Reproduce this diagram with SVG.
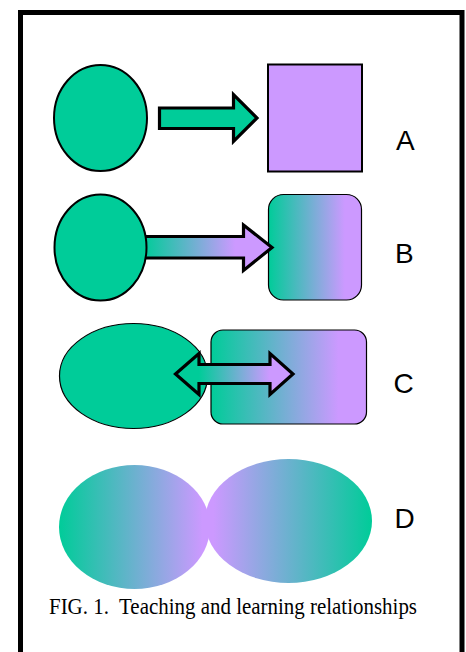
<svg xmlns="http://www.w3.org/2000/svg" width="466" height="652" viewBox="0 0 466 652">
  <style>
    .frame { fill: #ffffff; stroke: #000000; stroke-width: 5; }
    .green { fill: #00CC99; }
    .purple { fill: #CC99FF; }
    .edge2 { stroke: #000000; stroke-width: 2; }
    .edge1 { stroke: #000000; stroke-width: 1.2; }
    .arrow { stroke: #000000; stroke-width: 3.2; stroke-linejoin: miter; }
    .tag { font-family: "Liberation Sans", Arial, sans-serif; font-size: 28px; fill: #000000; }
    .caption { font-family: "Liberation Serif", "Times New Roman", serif; font-size: 22.5px; fill: #000000; white-space: pre; }
  </style>
  <defs>
    <linearGradient id="gArrowB" x1="0" y1="0" x2="1" y2="0">
      <stop offset="0.03" stop-color="#00CC99"/>
      <stop offset="0.72" stop-color="#CC99FF"/>
    </linearGradient>
    <linearGradient id="gBox" x1="0" y1="0" x2="1" y2="0">
      <stop offset="0" stop-color="#00CC99"/>
      <stop offset="0.82" stop-color="#CC99FF"/>
    </linearGradient>
    <linearGradient id="gArrowC" x1="0" y1="0" x2="1" y2="0">
      <stop offset="0.2" stop-color="#00CC99"/>
      <stop offset="0.8" stop-color="#CC99FF"/>
    </linearGradient>
    <linearGradient id="gLeft" x1="0" y1="0" x2="1" y2="0">
      <stop offset="0" stop-color="#00CC99"/>
      <stop offset="0.95" stop-color="#CC99FF"/>
    </linearGradient>
    <linearGradient id="gRight" x1="0" y1="0" x2="1" y2="0">
      <stop offset="0.05" stop-color="#CC99FF"/>
      <stop offset="1" stop-color="#00CC99"/>
    </linearGradient>
  </defs>

  <!-- outer frame -->
  <rect class="frame" x="20.5" y="12.5" width="441.5" height="700"/>

  <!-- row A -->
  <g id="a-teacher"><ellipse class="green edge2" cx="100.5" cy="118" rx="46.5" ry="53"/></g>
  <g id="a-learner"><rect class="purple edge2" x="268" y="64.5" width="94" height="107"/></g>
  <g id="a-label"><text class="tag" x="396" y="149.5">A</text></g>

  <!-- row B -->
  <g id="b-learner"><rect class="edge1" fill="url(#gBox)" x="268.5" y="194.5" width="93" height="105.5" rx="15"/></g>
  <g id="b-label"><text class="tag" x="395" y="262.5">B</text></g>

  <!-- row C -->
  <g id="c-teacher"><ellipse class="green edge1" cx="133.5" cy="376" rx="74" ry="52.5"/></g>
  <g id="c-learner"><rect class="edge1" fill="url(#gBox)" x="211" y="330" width="155.5" height="94" rx="12"/></g>
  <g id="c-label"><text class="tag" x="393.5" y="392.5">C</text></g>

  <!-- row D -->
  <g id="d-teacher"><ellipse fill="url(#gLeft)" cx="134.5" cy="527" rx="75.5" ry="62"/></g>
  <g id="d-learner"><ellipse fill="url(#gRight)" cx="288.5" cy="521" rx="83.5" ry="62"/></g>
  <g id="d-label"><text class="tag" x="394.5" y="528">D</text></g>

  <!-- connectors -->
  <g id="connectors">
    <path class="green arrow" d="M159.5,108 L233.5,108 L233.5,94.5 L257,118 L233.5,141.5 L233.5,128.5 L159.5,128.5 Z"/>
    <path class="arrow" fill="url(#gArrowB)" d="M140,236.5 L243.5,236.5 L243.5,225 L272,247.5 L243.5,270.5 L243.5,258 L140,258 Z"/>
    <path class="arrow" fill="url(#gArrowC)" d="M175.5,374 L199,353.5 L199,364.5 L270,364.5 L270,353.5 L293,374 L270,394.5 L270,383.5 L199,383.5 L199,394.5 Z"/>
  </g>

  <!-- row B source drawn over its arrow tail -->
  <g id="b-teacher"><ellipse class="green edge2" cx="100.5" cy="247.5" rx="46" ry="53"/></g>

  <text class="caption" x="49" y="613.5" textLength="368" lengthAdjust="spacingAndGlyphs" xml:space="preserve">FIG. 1.  Teaching and learning relationships</text>
</svg>
